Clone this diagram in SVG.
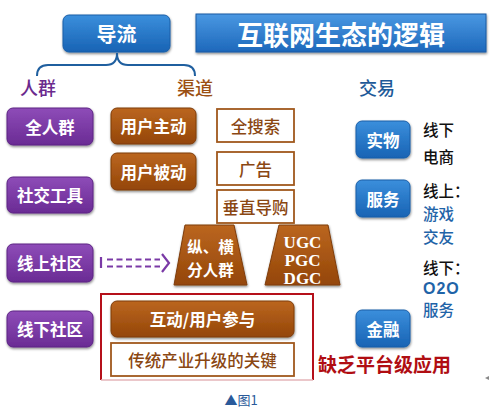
<svg xmlns="http://www.w3.org/2000/svg" width="496" height="412" viewBox="0 0 496 412">
<defs>
<linearGradient id="gBlue" x1="0" y1="0" x2="0" y2="1"><stop offset="0" stop-color="#3b8fdc"/><stop offset="1" stop-color="#1863b4"/></linearGradient>
<linearGradient id="gTitle" x1="0" y1="0" x2="0" y2="1"><stop offset="0" stop-color="#4a98e2"/><stop offset="1" stop-color="#1d68bb"/></linearGradient>
<linearGradient id="gPurple" x1="0" y1="0" x2="0" y2="1"><stop offset="0" stop-color="#8e4cb8"/><stop offset="1" stop-color="#6a2b94"/></linearGradient>
<linearGradient id="gBrown" x1="0" y1="0" x2="0" y2="1"><stop offset="0" stop-color="#bb6620"/><stop offset="1" stop-color="#944608"/></linearGradient>
<filter id="sh" x="-10%" y="-10%" width="125%" height="140%"><feDropShadow dx="0.5" dy="1.5" stdDeviation="1" flood-color="#000" flood-opacity="0.45"/></filter>
</defs>
<style>
text{font-family:"Noto Sans CJK SC","Noto Sans",sans-serif;}
.bt{fill:#fff;font-weight:bold;font-size:16.5px;text-anchor:middle;dominant-baseline:central;}
.ml{fill:#fff;font-weight:bold;text-anchor:middle;}
.blue{fill:url(#gBlue);stroke:#1a5ea8;stroke-width:1;filter:url(#sh);}
.purple{fill:url(#gPurple);stroke:#5c2484;stroke-width:1;filter:url(#sh);}
.brown{fill:url(#gBrown);stroke:#7e3c08;stroke-width:1;filter:url(#sh);}
.wbox{fill:#fff;stroke:#a0581c;stroke-width:1.8;}
.wt{fill:#8a4712;font-size:16.5px;font-weight:500;text-anchor:middle;dominant-baseline:central;}
.side{font-size:15.5px;font-weight:500;}
.k{fill:#111;}
.b{fill:#1f64a8;}
.hd{font-size:18px;font-weight:500;text-anchor:middle;}
</style>
<rect width="496" height="412" fill="#fff"/>

<g id="title">
<rect x="196" y="14" width="290" height="38" fill="url(#gTitle)" stroke="#1a5aa3" stroke-width="1" filter="url(#sh)"/>
<text x="341" y="33" class="bt" style="font-size:26px">互联网生态的逻辑</text>
</g>

<g id="daoliu">
<rect x="63" y="15" width="107" height="37" rx="6" class="blue"/>
<text x="116.5" y="33.5" class="bt" style="font-size:20px">导流</text>
</g>

<g id="connectors" fill="none">
<path d="M37,76 Q37,65 48,65 L106,65 Q117,65 117,53 Q117,65 128,65 L184,65 Q195,65 195,76" stroke="#1f5f9f" stroke-width="2"/>
<line x1="101" y1="257" x2="101" y2="268" stroke="#7a3aa6" stroke-width="2.2"/>
<line x1="107" y1="259.5" x2="160" y2="259.5" stroke="#7a3aa6" stroke-width="2.2" stroke-dasharray="6 3.5"/>
<line x1="107" y1="266.5" x2="160" y2="266.5" stroke="#7a3aa6" stroke-width="2.2" stroke-dasharray="6 3.5"/>
<polyline points="162,254 169,263 162,272" stroke="#7a3aa6" stroke-width="2.2"/>
</g>

<g id="labels">
<text x="38" y="95" class="hd" fill="#6b2a8e">人群</text>
<text x="195" y="95" class="hd" fill="#9b4f12">渠道</text>
<text x="377" y="95" class="hd" fill="#1e5a99">交易</text>
</g>

<g id="quanrenqun"><rect x="7" y="108" width="86" height="37" rx="6" class="purple"/><text x="50" y="126.5" class="bt">全人群</text></g>
<g id="shejiaogongju"><rect x="7" y="177" width="86" height="36" rx="6" class="purple"/><text x="50" y="195" class="bt">社交工具</text></g>
<g id="xianshangshequ"><rect x="7" y="244" width="86" height="38" rx="6" class="purple"/><text x="50" y="263" class="bt">线上社区</text></g>
<g id="xianxiashequ"><rect x="7" y="311" width="86" height="36" rx="6" class="purple"/><text x="50" y="329" class="bt">线下社区</text></g>

<g id="yonghuzhudong"><rect x="111" y="108" width="85" height="36" rx="6" class="brown"/><text x="153.5" y="126" class="bt">用户主动</text></g>
<g id="yonghubeidong"><rect x="111" y="153" width="85" height="37" rx="6" class="brown"/><text x="153.5" y="171.5" class="bt">用户被动</text></g>

<g id="quansousuo"><rect x="217" y="109" width="77" height="33" class="wbox"/><text x="255.5" y="125.5" class="wt">全搜索</text></g>
<g id="guanggao"><rect x="217" y="152" width="77" height="33" class="wbox"/><text x="255.5" y="168.5" class="wt">广告</text></g>
<g id="chuizhidaogou"><rect x="217" y="190" width="77" height="33" class="wbox"/><text x="255.5" y="206.5" class="wt">垂直导购</text></g>

<g id="zongheng">
<polygon points="185,225 234,225 247,285 174,285" fill="url(#gBrown)" stroke="#7e3c08" stroke-width="1" filter="url(#sh)"/>
<text x="210.5" y="253" class="ml" style="font-size:15.5px">纵、横</text>
<text x="210.5" y="276" class="ml" style="font-size:15.5px">分人群</text>
</g>
<g id="ugc">
<polygon points="279,225 328,225 340,285 265,285" fill="url(#gBrown)" stroke="#7e3c08" stroke-width="1" filter="url(#sh)"/>
<text class="ml" style="font-family:'Liberation Serif',serif;font-size:17px"><tspan x="302.5" y="248">UGC</tspan><tspan x="302.5" y="266">PGC</tspan><tspan x="302.5" y="284">DGC</tspan></text>
</g>

<g id="redframe">
<path d="M101,380 L101,294 L313,294 L313,380" fill="none" stroke="#b5101a" stroke-width="2"/>
<line x1="101" y1="380" x2="313" y2="380" stroke="#e4b4b8" stroke-width="1.5"/>
</g>
<g id="hudong"><rect x="111" y="301" width="183" height="36" rx="6" class="brown"/><text x="202.5" y="319" class="bt">互动/用户参与</text></g>
<g id="chuantong"><rect x="111" y="343" width="183" height="33" class="wbox"/><text x="202.5" y="359.5" class="wt">传统产业升级的关键</text></g>
<text x="318" y="372" style="font-size:19px;font-weight:bold;fill:#b00d12">缺乏平台级应用</text>

<g id="shiwu"><rect x="356" y="121" width="54" height="37" rx="6" class="blue"/><text x="383" y="139.5" class="bt">实物</text></g>
<g id="fuwu"><rect x="356" y="180" width="54" height="37" rx="6" class="blue"/><text x="383" y="198.5" class="bt">服务</text></g>
<g id="jinrong"><rect x="356" y="310" width="54" height="37" rx="6" class="blue"/><text x="383" y="328.5" class="bt">金融</text></g>

<g id="side-text">
<text x="423" y="136" class="side k">线下</text>
<text x="423" y="163" class="side k">电商</text>
<text x="423" y="197" class="side k">线上：</text>
<text x="423" y="220" class="side b">游戏</text>
<text x="423" y="243" class="side b">交友</text>
<text x="423" y="274" class="side k">线下：</text>
<text x="423" y="294" class="side b" style="font-weight:bold;font-family:'Liberation Sans',sans-serif;letter-spacing:1px;font-size:16px">O2O</text>
<text x="423" y="316" class="side b">服务</text>
</g>

<text x="241" y="405" style="font-size:13px;fill:#2a5a9a;text-anchor:middle">▲图1</text>
<polygon points="485,378 489,376 489,380" fill="#888"/>
</svg>
